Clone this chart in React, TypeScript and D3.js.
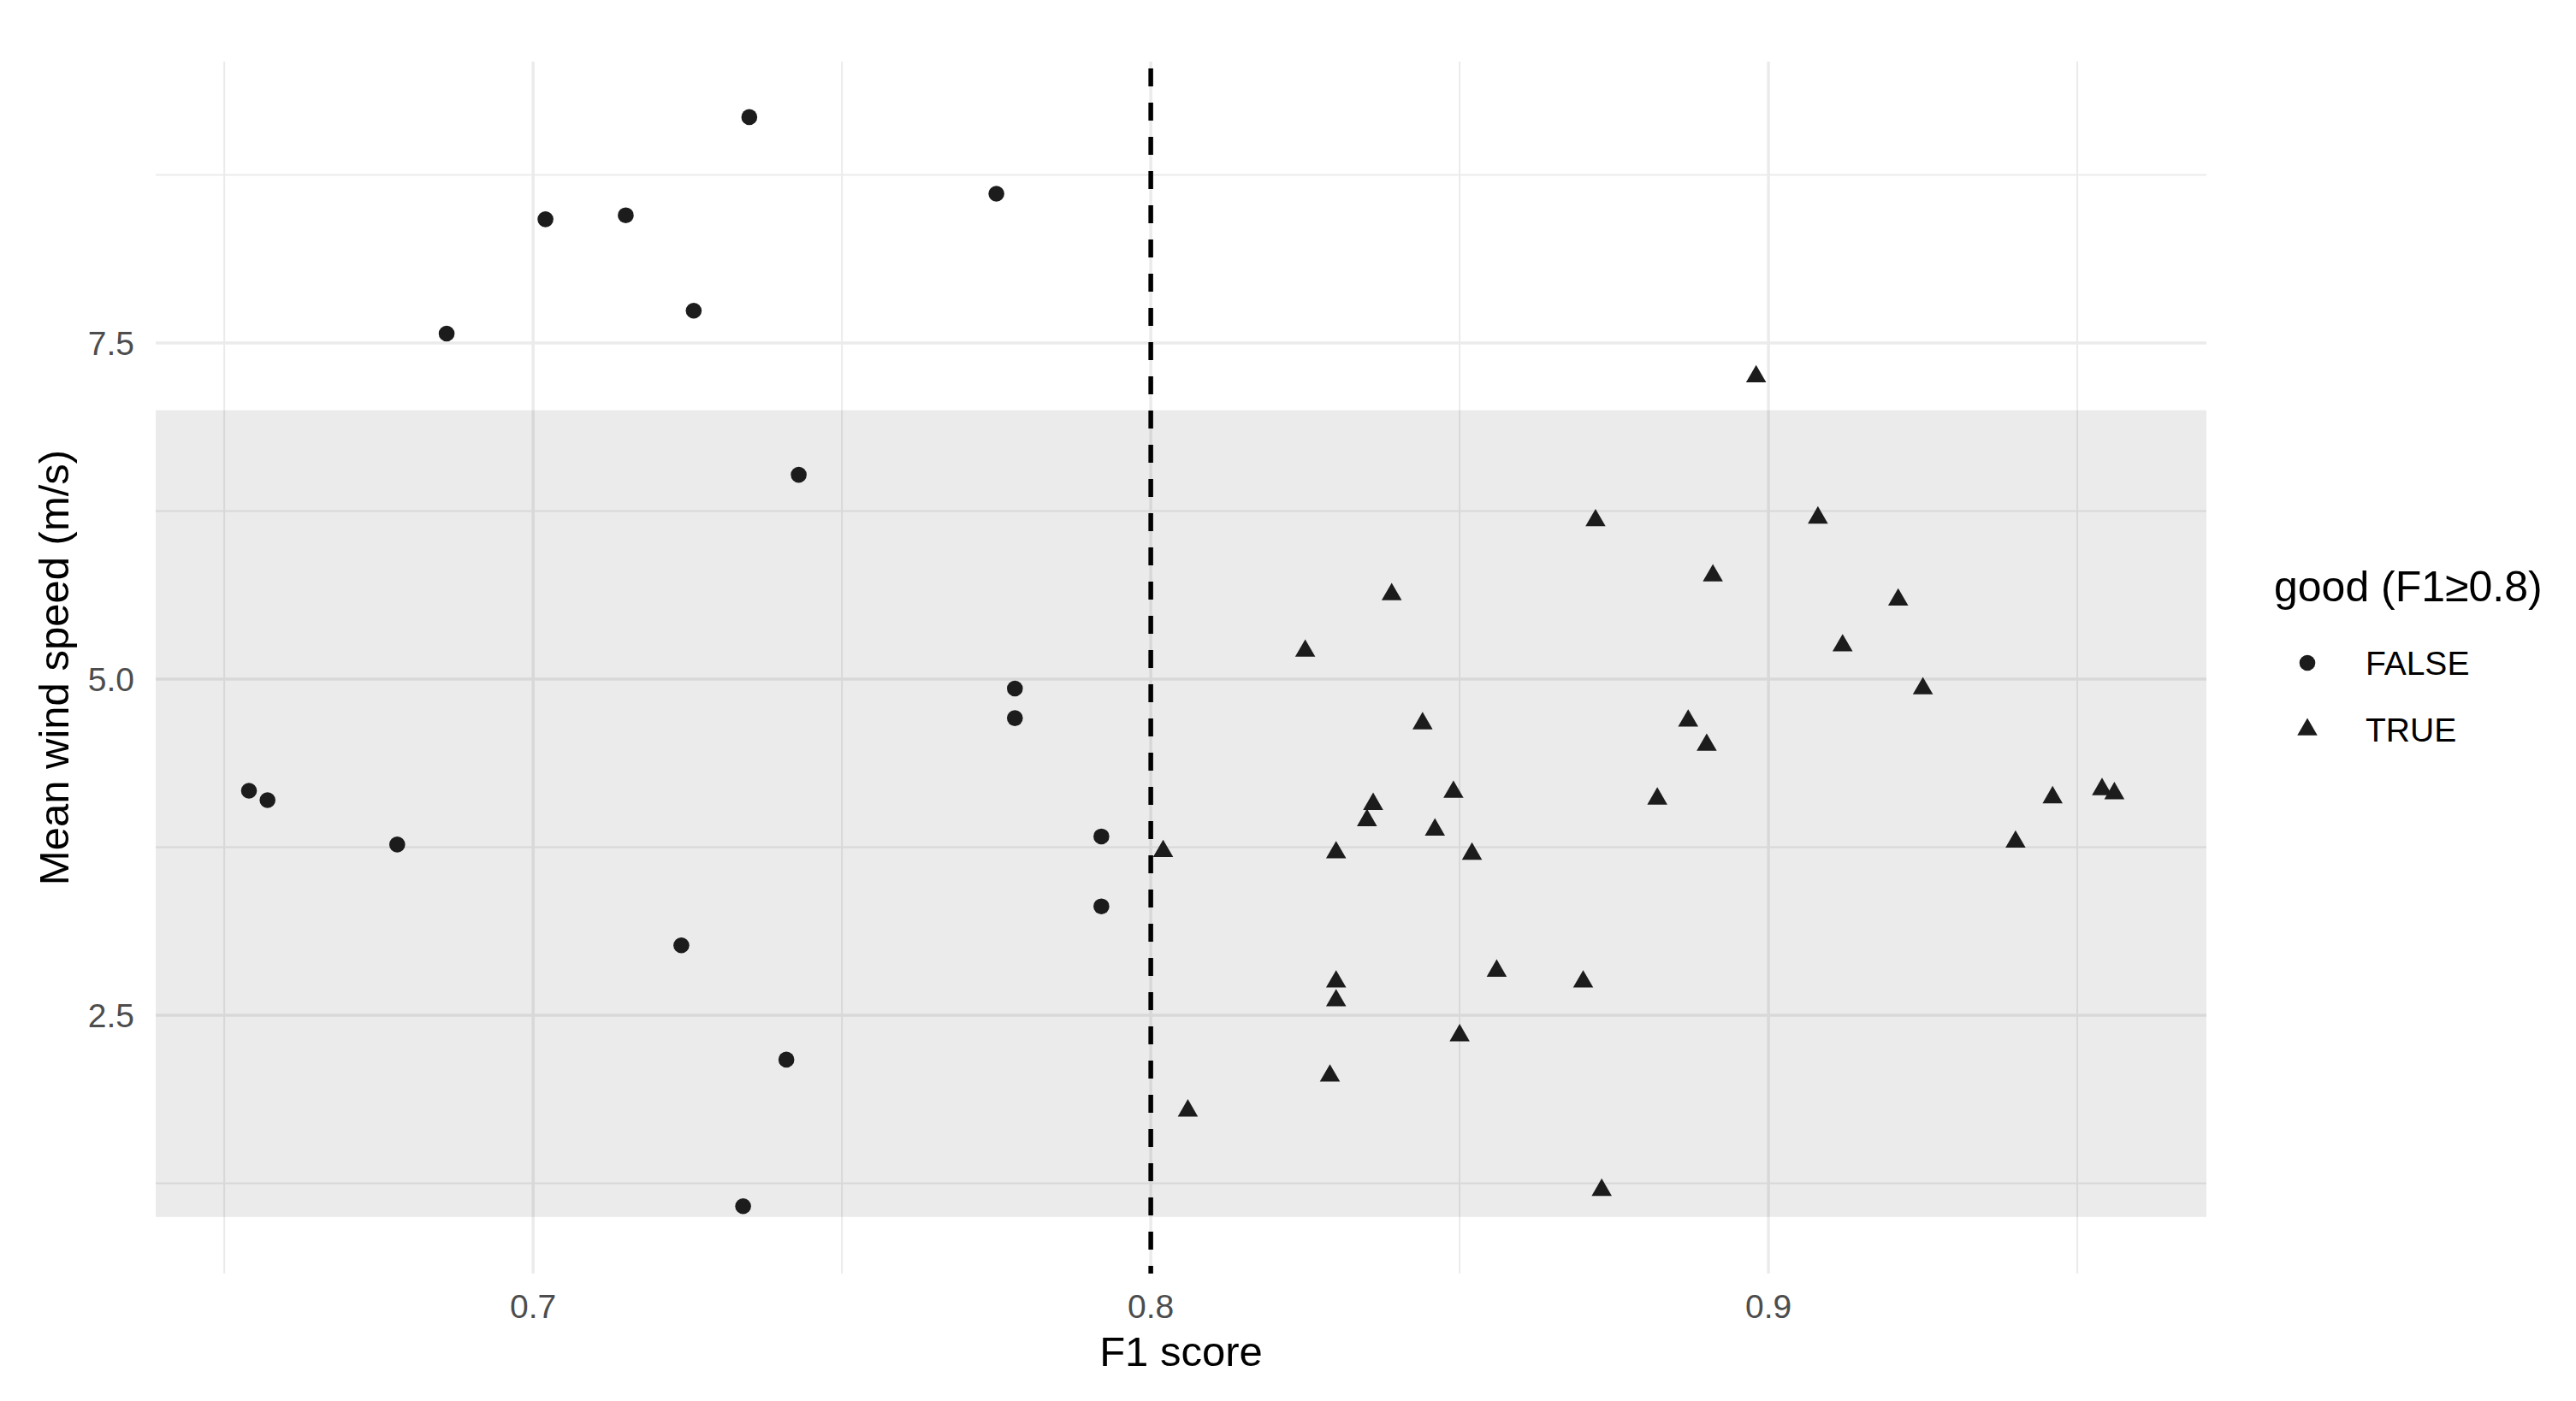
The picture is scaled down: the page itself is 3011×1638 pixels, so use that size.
import React from 'react';
import * as d3 from 'd3';

// F1 score vs mean wind speed, split by the 0.8 threshold
const falseF1 = [0.735, 0.775, 0.702, 0.715, 0.726, 0.686, 0.743, 0.778, 0.778, 0.654, 0.657, 0.678, 0.792, 0.792, 0.724, 0.741, 0.734];
const falseWind = [9.18, 8.61, 8.42, 8.45, 7.74, 7.57, 6.52, 4.93, 4.71, 4.17, 4.10, 3.77, 3.83, 3.31, 3.02, 2.17, 1.08];

const trueF1 = [0.898, 0.872, 0.908, 0.891, 0.839, 0.921, 0.825, 0.912, 0.925, 0.844, 0.887, 0.890, 0.849, 0.836, 0.835, 0.846,
  0.882, 0.946, 0.954, 0.956, 0.940, 0.802, 0.830, 0.852, 0.856, 0.830, 0.870, 0.830, 0.850, 0.829, 0.806, 0.873];
const trueWind = [7.25, 6.18, 6.20, 5.77, 5.63, 5.59, 5.21, 5.25, 4.93, 4.67, 4.69, 4.51, 4.16, 4.07, 3.95, 3.88,
  4.11, 4.12, 4.18, 4.15, 3.79, 3.72, 3.71, 3.70, 2.83, 2.75, 2.75, 2.61, 2.35, 2.05, 1.79, 1.20];

const xMajor = [0.7, 0.8, 0.9];
const xMinor = [0.65, 0.75, 0.85, 0.95];
const yMajor = [2.5, 5.0, 7.5];
const yMinor = [1.25, 3.75, 6.25, 8.75];

const threshold = 0.8;
const bandRange = [1, 7];
const legendItems = ['FALSE', 'TRUE'];

const W = 3011;
const H = 1638;
const font = '"Liberation Sans", Arial, Helvetica, sans-serif';

export default function App() {
  const left = 182, right = 2579, top = 72, bottom = 1489;

  const x = d3.scaleLinear().domain([0.6389, 0.9709]).range([left, right]);
  const y = d3.scaleLinear().domain([0.579, 9.593]).range([bottom, top]);

  const tri = d3.symbol(d3.symbolTriangle, 240)() as string;
  const ink = '#1c1c1c';

  return (
    <svg width={W} height={H} style={{ position: 'absolute', left: 0, top: 0 }} fontFamily={font}>
      <rect width={W} height={H} fill="#fff" />

      {/* grid */}
      {xMinor.map(v => (
        <line key={'xm' + v} x1={x(v)} x2={x(v)} y1={top} y2={bottom} stroke="#ebebeb" strokeWidth={2} />
      ))}
      {yMinor.map(v => (
        <line key={'ym' + v} x1={left} x2={right} y1={y(v)} y2={y(v)} stroke="#ebebeb" strokeWidth={2} />
      ))}
      {xMajor.map(v => (
        <line key={'xM' + v} x1={x(v)} x2={x(v)} y1={top} y2={bottom} stroke="#ebebeb" strokeWidth={3.5} />
      ))}
      {yMajor.map(v => (
        <line key={'yM' + v} x1={left} x2={right} y1={y(v)} y2={y(v)} stroke="#ebebeb" strokeWidth={3.5} />
      ))}

      {/* shaded band */}
      <rect x={left} width={right - left} y={y(bandRange[1])} height={y(bandRange[0]) - y(bandRange[1])}
        fill="#000" fillOpacity={0.08} />

      {/* threshold */}
      <line x1={x(threshold)} x2={x(threshold)} y1={top} y2={bottom} stroke="#000" strokeWidth={5.5}
        strokeDasharray="21 19" strokeDashoffset={-8} />

      {/* points */}
      {falseF1.map((f, i) => (
        <circle key={'f' + i} cx={x(f)} cy={y(falseWind[i])} r={9.3} fill={ink} />
      ))}
      {trueF1.map((f, i) => (
        <path key={'t' + i} d={tri} transform={`translate(${x(f)},${y(trueWind[i])})`} fill={ink} />
      ))}

      {/* axis tick labels */}
      {xMajor.map(v => (
        <text key={'xl' + v} x={x(v)} y={1541} textAnchor="middle" fontSize={39} fill="#4d4d4d">{v.toFixed(1)}</text>
      ))}
      {yMajor.map(v => (
        <text key={'yl' + v} x={157} y={y(v)} dy="0.36em" textAnchor="end" fontSize={39} fill="#4d4d4d">{v.toFixed(1)}</text>
      ))}

      {/* axis titles */}
      <text x={(left + right) / 2} y={1597} textAnchor="middle" fontSize={49} fill="#000">F1 score</text>
      <text transform={`translate(80,${(top + bottom) / 2}) rotate(-90)`} textAnchor="middle" fontSize={49} fill="#000">
        Mean wind speed (m/s)
      </text>

      {/* legend */}
      <text x={2658} y={703} fontSize={50} fill="#000">good (F1≥0.8)</text>
      {legendItems.map((lab, i) => {
        const cy = 775 + i * 78;
        return (
          <g key={lab}>
            {i === 0
              ? <circle cx={2697} cy={cy} r={9.3} fill={ink} />
              : <path d={tri} transform={`translate(2697,${cy})`} fill={ink} />}
            <text x={2765} y={cy} dy="0.36em" fontSize={39} fill="#000">{lab}</text>
          </g>
        );
      })}
    </svg>
  );
}
